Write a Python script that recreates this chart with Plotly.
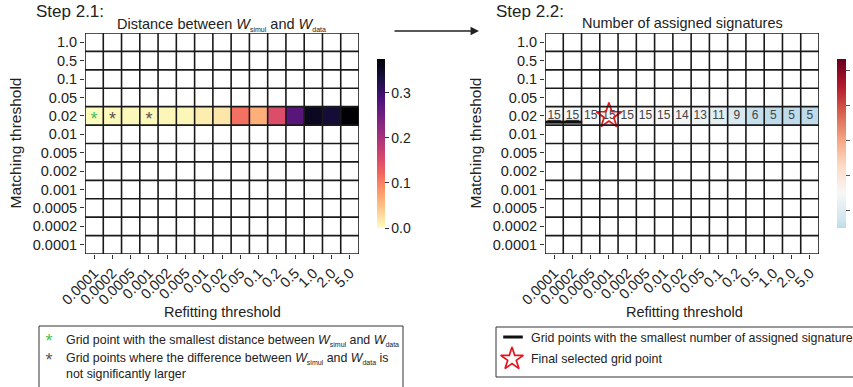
import math
import plotly.graph_objects as go

# ---- grid definition ----
refit_labels = ["0.0001", "0.0002", "0.0005", "0.001", "0.002", "0.005", "0.01",
                "0.02", "0.05", "0.1", "0.2", "0.5", "1.0", "2.0", "5.0"]
match_labels = ["1.0", "0.5", "0.1", "0.05", "0.02", "0.01", "0.005", "0.002",
                "0.001", "0.0005", "0.0002", "0.0001"]
evaluated_row = "0.02"

# Step 2.1: distance between W_simul and W_data along the evaluated row
distance_values = [0.001, 0.003, 0.004, 0.004, 0.005, 0.006, 0.013, 0.019,
                   0.113, 0.064, 0.150, 0.274, 0.353, 0.338, 0.375]
best_distance_col = "0.0001"
not_worse_cols = ["0.0002", "0.001"]

# Step 2.2: number of assigned signatures along the evaluated row
n_signatures = [15, 15, 15, 15, 15, 15, 15, 14, 13, 11, 9, 6, 5, 5, 5]
min_sig_cols = ["0.0001", "0.0002"]
selected_col = "0.001"
sig_color_min, sig_color_center, sig_color_max = 5, 15, 53.4
sig_cbar_ticks = [10, 20, 30, 40, 50]

W, H = 853, 387
FONT = "Liberation Sans, Arial, Helvetica, sans-serif"
GREEN, GREY, RED = "#45bf55", "#555555", "#e8141c"


def px(x):
    return x / W


def py(y):
    return 1 - y / H


nx, ny = len(refit_labels), len(match_labels)
row = match_labels.index(evaluated_row)
cols = list(range(nx))
rows = list(range(ny))


def row_matrix(vals):
    z = [[None] * nx for _ in range(ny)]
    z[row] = list(vals)
    return z


# diverging RdBu_r, recentred and truncated to the colour range
rdbu_r = ["#053061", "#2166ac", "#4393c3", "#92c5de", "#d1e5f0", "#f7f7f7",
          "#fddbc7", "#f4a582", "#d6604d", "#b2182b", "#67001f"]


def hex2rgb(h):
    h = h.lstrip("#")
    return tuple(int(h[i:i + 2], 16) for i in (0, 2, 4))


def interp_color(p):
    k = p * (len(rdbu_r) - 1)
    i = min(int(math.floor(k)), len(rdbu_r) - 2)
    t = k - i
    a, b = hex2rgb(rdbu_r[i]), hex2rgb(rdbu_r[i + 1])
    c = [round(a[j] + (b[j] - a[j]) * t) for j in range(3)]
    return f"rgb({c[0]},{c[1]},{c[2]})"


vr = max(sig_color_max - sig_color_center, sig_color_center - sig_color_min)
full_lo = sig_color_center - vr
p_lo = (sig_color_min - full_lo) / (2 * vr)
p_hi = (sig_color_max - full_lo) / (2 * vr)
sig_scale = [[0.0, interp_color(p_lo)]]
for i in range(len(rdbu_r)):
    p = i / (len(rdbu_r) - 1)
    if p_lo < p < p_hi:
        sig_scale.append([(p - p_lo) / (p_hi - p_lo), rdbu_r[i]])
sig_scale.append([1.0, interp_color(p_hi)])

fig = go.Figure()

# left heatmap
fig.add_trace(go.Heatmap(
    z=row_matrix(distance_values), x=cols, y=rows,
    colorscale="magma", reversescale=True, zmin=0, zmax=max(distance_values),
    xaxis="x", yaxis="y", hoverongaps=False,
    colorbar=dict(x=px(377), xanchor="left", y=py(143.5), yanchor="middle",
                  len=169, lenmode="pixels", thickness=8, xpad=0, ypad=0,
                  outlinewidth=0, ticks="outside", ticklen=4, tickwidth=1,
                  tickcolor="#333", tickvals=[0, 0.1, 0.2, 0.3], tickformat=".1f",
                  tickfont=dict(size=14, color="#222", family=FONT)),
))

# right heatmap
fig.add_trace(go.Heatmap(
    z=row_matrix(n_signatures), x=cols, y=rows,
    colorscale=sig_scale, zmin=sig_color_min, zmax=sig_color_max,
    xaxis="x2", yaxis="y2", hoverongaps=False,
    colorbar=dict(x=px(837), xanchor="left", y=py(143.5), yanchor="middle",
                  len=169, lenmode="pixels", thickness=9, xpad=0, ypad=0,
                  outlinewidth=0, ticks="outside", ticklen=4, tickwidth=1,
                  tickcolor="#555", tickvals=sig_cbar_ticks, showticklabels=False),
))

# asterisks on the distance panel
star_cols = [best_distance_col] + not_worse_cols
star_colors = [GREEN] + [GREY] * len(not_worse_cols)
fig.add_trace(go.Scatter(
    x=[refit_labels.index(c) for c in star_cols], y=[row + 0.24] * len(star_cols),
    mode="text", text=["*"] * len(star_cols),
    textfont=dict(size=18, color=star_colors, family=FONT),
    xaxis="x", yaxis="y", showlegend=False, hoverinfo="skip"))

# signature counts
count_text = [f"<u>{v}</u>" if refit_labels[i] in min_sig_cols else str(v)
              for i, v in enumerate(n_signatures)]
fig.add_trace(go.Scatter(
    x=cols, y=[row] * nx, mode="text", text=count_text,
    textfont=dict(size=12, color="#444", family=FONT),
    xaxis="x2", yaxis="y2", showlegend=False, hoverinfo="skip"))

# bars marking the smallest number of signatures
fig.add_trace(go.Scatter(
    x=[refit_labels.index(c) for c in min_sig_cols], y=[row + 0.34] * len(min_sig_cols),
    mode="markers", marker=dict(symbol="line-ew", size=14, line=dict(width=3, color="#111")),
    xaxis="x2", yaxis="y2", showlegend=False, hoverinfo="skip"))

# final selected grid point
fig.add_trace(go.Scatter(
    x=[refit_labels.index(selected_col)], y=[row], mode="markers",
    marker=dict(symbol="star-open", size=19, color=RED, line=dict(width=1.7, color=RED)),
    xaxis="x2", yaxis="y2", showlegend=False, hoverinfo="skip"))

# legend glyphs (overlay axes in pixel units)
fig.add_trace(go.Scatter(
    x=[513], y=[337], mode="markers",
    marker=dict(symbol="line-ew", size=14, line=dict(width=3, color="#111")),
    xaxis="x3", yaxis="y3", showlegend=False, hoverinfo="skip"))
fig.add_trace(go.Scatter(
    x=[512], y=[359], mode="markers",
    marker=dict(symbol="star-open", size=17, color=RED, line=dict(width=1.7, color=RED)),
    xaxis="x3", yaxis="y3", showlegend=False, hoverinfo="skip"))
fig.add_trace(go.Scatter(
    x=[49, 49], y=[342, 361], mode="text", text=["*", "*"],
    textfont=dict(size=18, color=[GREEN, GREY], family=FONT),
    xaxis="x3", yaxis="y3", showlegend=False, hoverinfo="skip"))

# grid lines
shapes = []
for xr, yr in (("x", "y"), ("x2", "y2")):
    for i in range(nx + 1):
        shapes.append(dict(type="line", xref=xr, yref=yr, x0=i - 0.5, x1=i - 0.5,
                           y0=-0.5, y1=ny - 0.5, line=dict(color="#1a1a1a", width=1.6), layer="above"))
    for j in range(ny + 1):
        shapes.append(dict(type="line", xref=xr, yref=yr, x0=-0.5, x1=nx - 0.5,
                           y0=j - 0.5, y1=j - 0.5, line=dict(color="#1a1a1a", width=1.6), layer="above"))

# legend boxes
shapes.append(dict(type="rect", xref="paper", yref="paper", x0=px(39), x1=px(403),
                   y0=py(395), y1=py(326), line=dict(color="#333", width=1)))
shapes.append(dict(type="rect", xref="paper", yref="paper", x0=px(496), x1=px(870),
                   y0=py(377), y1=py(327), line=dict(color="#333", width=1)))

SUB = '<sub><span style="font-size:7px">{}</span></sub>'
W_SIM = "<i>W</i>" + SUB.format("simul")
W_DAT = "<i>W</i>" + SUB.format("data")


def ann(text, x, y, size, xanchor="left", yanchor="middle", angle=0, color="#222", align="left"):
    return dict(text=text, x=x, y=y, xref="paper", yref="paper", showarrow=False,
                xanchor=xanchor, yanchor=yanchor, textangle=angle, align=align,
                font=dict(size=size, color=color, family=FONT))


annotations = [
    ann("Step 2.1:", px(34), py(11.5), 17),
    ann("Step 2.2:", px(494), py(11.5), 17),
    ann(f"Distance between {W_SIM} and {W_DAT}", px(221), py(25), 14.5, xanchor="center"),
    ann("Number of assigned signatures", px(682), py(23.5), 14.5, xanchor="center"),
    ann("Matching threshold", px(15), py(143.5), 15.5, xanchor="center", angle=-90),
    ann("Matching threshold", px(475), py(143.5), 15.5, xanchor="center", angle=-90),
    ann("Refitting threshold", px(222), py(312), 14.5, xanchor="center"),
    ann("Refitting threshold", px(684), py(312), 14.5, xanchor="center"),
    ann(f"Grid point with the smallest distance between {W_SIM} and {W_DAT}",
        px(64), py(340), 12.4),
    ann(f"Grid points where the difference between {W_SIM} and {W_DAT} is<br>not significantly larger",
        px(64), py(366), 12.4),
    ann("Grid points with the smallest number of assigned signatures", px(529), py(338), 12.4),
    ann("Final selected grid point", px(529), py(359), 12.4),
    dict(text="", x=px(479), y=py(31), xref="paper", yref="paper", showarrow=True,
         ax=-86, ay=0, arrowhead=2, arrowsize=1.3, arrowwidth=1.3, arrowcolor="#222"),
]

tick_font = dict(size=14.5, color="#222", family=FONT)
xaxis_common = dict(range=[-0.5, nx - 0.5], tickvals=cols, ticktext=refit_labels,
                    tickangle=-45, ticks="outside", ticklen=4, tickcolor="#333",
                    showgrid=False, zeroline=False, tickfont=tick_font, fixedrange=True)
yaxis_common = dict(range=[ny - 0.5, -0.5], tickvals=rows, ticktext=match_labels,
                    ticks="outside", ticklen=4, tickcolor="#333",
                    showgrid=False, zeroline=False, tickfont=tick_font, fixedrange=True)

fig.update_layout(
    width=W, height=H,
    margin=dict(l=0, r=0, t=0, b=0, pad=0, autoexpand=False),
    paper_bgcolor="white", plot_bgcolor="rgba(0,0,0,0)",
    font=dict(family=FONT, color="#222"),
    showlegend=False,
    xaxis=dict(domain=[px(85), px(359)], anchor="y", **xaxis_common),
    yaxis=dict(domain=[py(254), py(33)], anchor="x", **yaxis_common),
    xaxis2=dict(domain=[px(545), px(819)], anchor="y2", **xaxis_common),
    yaxis2=dict(domain=[py(254), py(33)], anchor="x2", **yaxis_common),
    xaxis3=dict(domain=[0, 1], range=[0, W], visible=False, anchor="y3", fixedrange=True),
    yaxis3=dict(domain=[0, 1], range=[H, 0], visible=False, anchor="x3", fixedrange=True),
    shapes=shapes,
    annotations=annotations,
)

fig.write_html("out.html")
